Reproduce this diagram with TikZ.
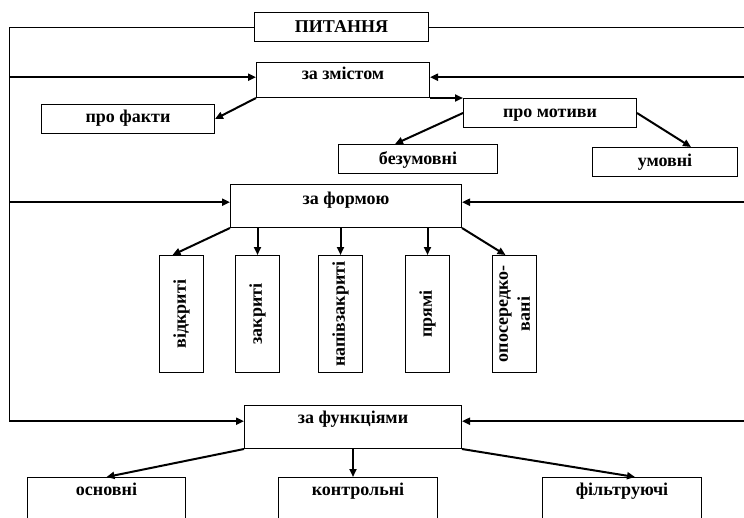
\documentclass[tikz,border=0pt]{standalone}
\usepackage{fontspec}
\setmainfont{Liberation Serif}
\usepackage{graphicx}
\usetikzlibrary{calc,arrows.meta}

\tikzset{
  box/.style={draw, line width=1pt, inner sep=0pt, anchor=north west, font=\bfseries\fontsize{18}{22}\selectfont},
  arr/.style={line width=2pt, -{Triangle[length=8pt,width=7pt]}},
  frame/.style={line width=1pt}
}

\begin{document}
\begin{tikzpicture}[x=1pt, y=-1pt]
\useasboundingbox (0,0) rectangle (744,517);
\clip (0,0) rectangle (744,517);

\node[box, minimum width=174pt, text height=19.5pt, text depth=9.5pt] (pyt) at (254,12) {ПИТАННЯ};
\node[box, minimum width=173pt, text height=17pt, text depth=18pt] (zmist) at (256,62) {за змістом};
\node[box, minimum width=173pt, text height=18pt, text depth=11pt] (fakty) at (41,104) {про факти};
\node[box, minimum width=173pt, text height=19pt, text depth=10pt] (motyvy) at (463,98) {про мотиви};
\node[box, minimum width=159pt, text height=20pt, text depth=9pt] (bezum) at (338,144) {безумовні};
\node[box, minimum width=145pt, text height=19pt, text depth=10pt] (umovni) at (592,147) {умовні};
\node[box, minimum width=231pt, text height=20pt, text depth=23pt] (forma) at (230,184) {за формою};
\node[box, minimum width=217pt, text height=18pt, text depth=25pt] (funk) at (244,405) {за функціями};
\node[box, minimum width=158pt, text height=18pt, text depth=40pt] (osn) at (27,477) {основні};
\node[box, minimum width=159pt, text height=18pt, text depth=40pt] (kontr) at (278,477) {контрольні};
\node[box, minimum width=159pt, text height=18pt, text depth=40pt] (filtr) at (542,477) {фільтруючі};

\foreach \name/\x/\txt in {v1/159/відкриті, v2/235/закриті, v3/318/напівзакриті, v4/405/прямі, v5/492/{\begin{tabular}{@{}c@{}}опосередко-\\вані\end{tabular}}}
  \node[box, minimum width=44pt, minimum height=117pt] (\name) at (\x,255) {\rotatebox{90}{\txt}};

\coordinate (L) at (9,0); \coordinate (R) at (750,0);
\draw[frame] (pyt.west) -| (L |- funk.mid west);
\draw[frame] (pyt.east) -| (R |- funk.mid east);
\foreach \n in {zmist,forma,funk} {
  \draw[arr] (L |- \n.mid west) -- (\n.mid west);
  \draw[arr] (R |- \n.mid east) -- (\n.mid east);
}

\draw[arr] (zmist.south west) -- (fakty.east);
\draw[arr] (zmist.south east) -- (motyvy.north west);
\draw[arr] (motyvy.west) -- ($(bezum.north)+(-23,0)$);
\draw[arr] (motyvy.east) -- ($(umovni.north)+(26,0)$);

\draw[arr] (forma.south west) -- ($(v1.north)+(-9,0)$);
\foreach \n in {v2,v3,v4} \draw[arr] (forma.south -| \n.north) -- (\n.north);
\draw[arr] (forma.south east) -- ($(v5.north)+(-9,0)$);

\draw[arr] (funk.south west) -- (osn.north);
\draw[arr] (funk.south) -- (funk.south |- kontr.north);
\draw[arr] (funk.south east) -- ($(filtr.north)+(13,0)$);
\end{tikzpicture}
\end{document}
